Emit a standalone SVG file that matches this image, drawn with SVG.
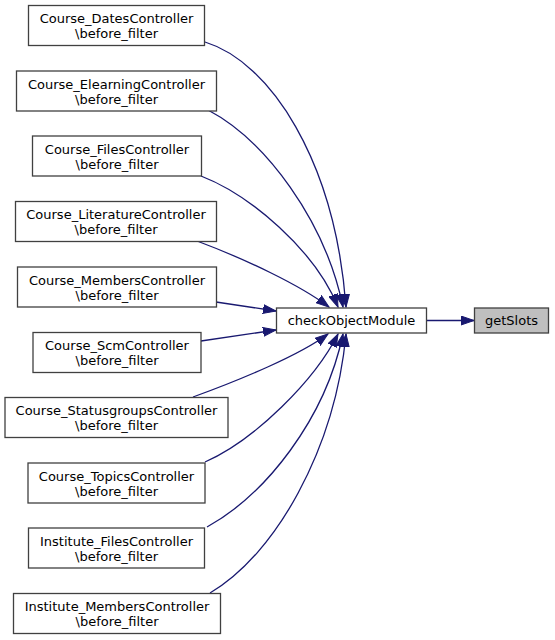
<svg xmlns="http://www.w3.org/2000/svg" width="555" height="640" viewBox="0 0 555 640">
<style>
.n rect{fill:#ffffff;stroke:#404040;stroke-width:1.3}
.n text{font-family:"DejaVu Sans",sans-serif;font-size:13px;text-anchor:middle;fill:#000}
.e path{fill:none;stroke:#191970;stroke-width:1.3}
</style>
<defs>
<marker id="ah" markerUnits="userSpaceOnUse" markerWidth="14" markerHeight="10" viewBox="0 0 14 10" refX="13" refY="5" orient="auto">
<path d="M0,0.5 L13,5 L0,9.5 Z" fill="#191970" stroke="#191970" stroke-width="1"/>
</marker>
</defs>
<rect width="555" height="640" fill="#ffffff"/>
<g id="edges" class="e">
<path marker-end="url(#ah)" d="M205,42 C270,62 335,160 346,307"/>
<path marker-end="url(#ah)" d="M208,110 C265,140 325,220 343,307"/>
<path marker-end="url(#ah)" d="M201,176 C250,195 315,250 338,307"/>
<path marker-end="url(#ah)" d="M197,241 C245,259 300,285 329,307"/>
<path marker-end="url(#ah)" d="M216,302 L276,311"/>
<path marker-end="url(#ah)" d="M201,341 L276,330"/>
<path marker-end="url(#ah)" d="M193,397 C240,380 300,355 328,334"/>
<path marker-end="url(#ah)" d="M205,462 C255,440 315,380 338,334"/>
<path marker-end="url(#ah)" d="M207,527 C265,495 325,420 343,334"/>
<path marker-end="url(#ah)" d="M210,593 C275,555 335,450 346,334"/>
<path marker-end="url(#ah)" d="M427,320.5 L474,320.5"/>
</g>
<g id="n1" class="n"><rect x="28.5" y="5.5" width="176" height="40"/><text x="116.5" y="23">Course_DatesController</text><text x="116.5" y="38">\before_filter</text></g>
<g id="n2" class="n"><rect x="16.5" y="71" width="200" height="40"/><text x="116.5" y="88.5">Course_ElearningController</text><text x="116.5" y="103.5">\before_filter</text></g>
<g id="n3" class="n"><rect x="32.5" y="136" width="169" height="40"/><text x="117" y="153.5">Course_FilesController</text><text x="117" y="168.5">\before_filter</text></g>
<g id="n4" class="n"><rect x="15.5" y="201.5" width="201" height="40"/><text x="116" y="219">Course_LiteratureController</text><text x="116" y="234">\before_filter</text></g>
<g id="n5" class="n"><rect x="17.5" y="267" width="199" height="40"/><text x="117" y="284.5">Course_MembersController</text><text x="117" y="299.5">\before_filter</text></g>
<g id="n6" class="n"><rect x="33" y="332.5" width="168" height="40"/><text x="117" y="350">Course_ScmController</text><text x="117" y="365">\before_filter</text></g>
<g id="n7" class="n"><rect x="5" y="397.5" width="223" height="40"/><text x="116.5" y="415">Course_StatusgroupsController</text><text x="116.5" y="430">\before_filter</text></g>
<g id="n8" class="n"><rect x="28" y="463" width="177" height="40"/><text x="116.5" y="480.5">Course_TopicsController</text><text x="116.5" y="495.5">\before_filter</text></g>
<g id="n9" class="n"><rect x="28.5" y="528" width="176" height="40"/><text x="116.5" y="545.5">Institute_FilesController</text><text x="116.5" y="560.5">\before_filter</text></g>
<g id="n10" class="n"><rect x="13.5" y="593.5" width="207" height="40"/><text x="117" y="611">Institute_MembersController</text><text x="117" y="626">\before_filter</text></g>
<g id="n11" class="n"><rect x="276.5" y="308" width="150" height="25"/><text x="351.5" y="324.5">checkObjectModule</text></g>
<g id="n12" class="n"><rect x="474.5" y="308" width="74" height="25" style="fill:#bfbfbf"/><text x="511.5" y="324.5">getSlots</text></g>
</svg>
